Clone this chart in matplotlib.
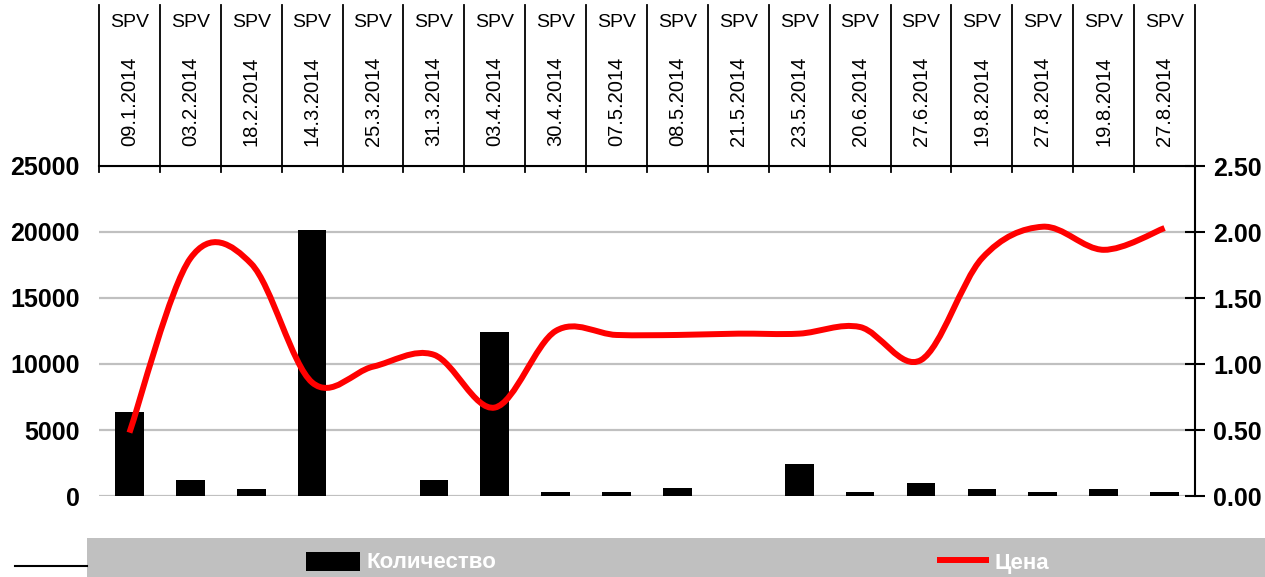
import matplotlib
matplotlib.use("Agg")
import matplotlib.pyplot as plt
from matplotlib.path import Path
from matplotlib.patches import PathPatch, Rectangle
from matplotlib.lines import Line2D
import matplotlib.transforms as mtransforms
import numpy as np

plt.rcParams['font.family'] = ['Liberation Sans', 'DejaVu Sans']

# data
issuers = ["SPV"] * 18
dates = ["09.1.2014", "03.2.2014", "18.2.2014", "14.3.2014", "25.3.2014", "31.3.2014",
         "03.4.2014", "30.4.2014", "07.5.2014", "08.5.2014", "21.5.2014", "23.5.2014",
         "20.6.2014", "27.6.2014", "19.8.2014", "27.8.2014", "19.8.2014", "27.8.2014"]
quantity = [6400, 1200, 500, 20150, 0, 1200, 12400, 300, 300, 600, 0, 2400,
            300, 950, 500, 300, 500, 300]
price = [0.48, 1.80, 1.76, 0.86, 0.98, 1.07, 0.67, 1.25, 1.22, 1.22, 1.23, 1.23,
         1.28, 1.03, 1.80, 2.04, 1.865, 2.03]

fig = plt.figure(figsize=(12.65, 5.77), dpi=100)
ax = fig.add_axes([99/1265, 1-496/577, (1195-99)/1265, 330/577])
ax2 = ax.twinx()

n = len(dates)
x = np.arange(n)

ax.bar(x, quantity, width=0.47, color='black', zorder=3)
ax.set_xlim(-0.5, n-0.5)
ax.set_ylim(0, 25000)
ax.set_yticks(np.arange(0, 25001, 5000))
ax.yaxis.grid(True, color='#c0c0c0', linewidth=1.6)
ax.set_axisbelow(True)
ax.set_xticks([])
ax.tick_params(axis='y', length=0, pad=14, labelsize=18)
for lab in ax.get_yticklabels():
    lab.set_fontweight('bold')
for s in ['left', 'right', 'bottom']:
    ax.spines[s].set_visible(False)
ax.spines['top'].set_linewidth(1.5)

# smooth price line (Excel-like bezier through the points)
verts = [(x[0], price[0])]
codes = [Path.MOVETO]
for i in range(n-1):
    a = i-1 if i > 0 else i
    b = i+2 if i+2 < n else i+1
    c1 = (x[i] + (x[i+1]-x[a])/6, price[i] + (price[i+1]-price[a])/6)
    c2 = (x[i+1] - (x[b]-x[i])/6, price[i+1] - (price[b]-price[i])/6)
    verts += [c1, c2, (x[i+1], price[i+1])]
    codes += [Path.CURVE4]*3
ax2.add_patch(PathPatch(Path(verts, codes), fill=False, edgecolor='#ff0000',
                        linewidth=4.3, capstyle='butt', joinstyle='round', zorder=4))
ax2.set_ylim(0, 2.5)
ax2.set_yticks(np.arange(0, 2.51, 0.5))
ax2.set_yticklabels(["%.2f" % v for v in np.arange(0, 2.51, 0.5)])
ax2.tick_params(axis='y', direction='inout', length=14, width=1.5, pad=6, labelsize=18)
for lab in ax2.get_yticklabels():
    lab.set_fontweight('bold')
for s in ['left', 'top', 'bottom']:
    ax2.spines[s].set_visible(False)
ax2.spines['right'].set_linewidth(1.5)

# header table above the plot
trans = mtransforms.blended_transform_factory(ax.transData, ax.transAxes)
for b in np.arange(-0.5, n, 1.0):
    ax.add_line(Line2D([b, b], [0.982, 1.488], transform=trans, color='black',
                       linewidth=1.3, clip_on=False))
for i in range(n):
    ax.text(x[i], 1.436, issuers[i], transform=trans, ha='center', va='center',
            fontsize=14, clip_on=False)
    ax.text(x[i], 1.197, dates[i], transform=trans, ha='center', va='center',
            rotation=90, fontsize=14.5, clip_on=False)

# legend strip
fig.add_artist(Rectangle((87/1265, 0), 1-87/1265, 39/577, transform=fig.transFigure,
                         facecolor='#c0c0c0', edgecolor='none'))
fig.add_artist(Line2D([15/1265, 87/1265], [11/577, 11/577], transform=fig.transFigure,
                      color='black', linewidth=1.5))
fig.add_artist(Rectangle((306/1265, 6/577), 54/1265, 19/577, transform=fig.transFigure,
                         facecolor='black', edgecolor='none'))
fig.text(366/1265, 14/577, "Количество", color='white', fontsize=16, fontweight='bold',
         ha='left', va='center')
fig.add_artist(Line2D([937/1265, 989/1265], [17/577, 17/577], transform=fig.transFigure,
                      color='#ff0000', linewidth=4.3, solid_capstyle='butt'))
fig.text(995/1265, 14/577, "Цена", color='white', fontsize=16, fontweight='bold',
         ha='left', va='center')

fig.savefig("out.png", dpi=100)
